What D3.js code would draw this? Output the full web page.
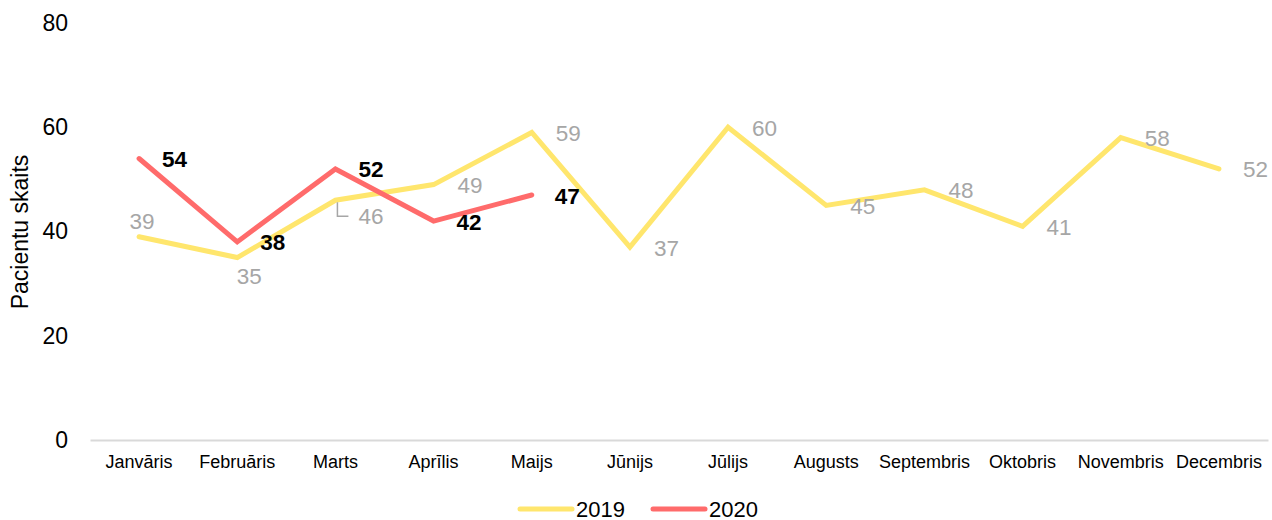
<!DOCTYPE html>
<html>
<head>
<meta charset="utf-8">
<script src="https://cdn.jsdelivr.net/npm/d3@7"></script>
<style>
  html, body { margin: 0; padding: 0; background: #fff; }
  svg { display: block; font-family: "Liberation Sans", Arial, sans-serif; }
</style>
</head>
<body>
<svg id="chart" width="1272" height="520"></svg>
<script>
const months = ["Janvāris","Februāris","Marts","Aprīlis","Maijs","Jūnijs","Jūlijs","Augusts","Septembris","Oktobris","Novembris","Decembris"];
const values2019 = [39,35,46,49,59,37,60,45,48,41,58,52];
const values2020 = [54,38,52,42,47];
const yTicks = [0,20,40,60,80];
const seriesNames = ["2019","2020"];
const yTitle = "Pacientu skaits";

// label placement overrides for 2019 (index -> placement)
const place2019 = {0: "above", 1: "below", 2: "rightLeader"};

const W = 1272, H = 520;
const svg = d3.select("#chart");

const x = d3.scaleBand().domain(months).range([90, 1268]).padding(0);
const cx = d => x(d) + x.bandwidth() / 2;
const y = d3.scaleLinear().domain([0, 80]).range([440, 23]);

const colors = {"2019": "#FFE66D", "2020": "#FF6B6B"};

// y axis ticks (labels only)
const yAxis = svg.append("g")
  .attr("transform", "translate(68,0)")
  .call(d3.axisLeft(y).tickValues(yTicks).tickSize(0).tickPadding(0).tickFormat(d3.format("d")));
yAxis.select(".domain").remove();
yAxis.selectAll("text")
  .attr("font-family", "Liberation Sans, Arial, sans-serif")
  .attr("font-size", 23).attr("fill", "#000");

// x axis
const xAxis = svg.append("g")
  .attr("transform", "translate(0,440)")
  .call(d3.axisBottom(x).tickSize(0).tickPadding(0));
xAxis.select(".domain").attr("stroke", "#D9D9D9").attr("stroke-width", 2);
xAxis.selectAll("text")
  .attr("font-family", "Liberation Sans, Arial, sans-serif")
  .attr("font-size", 18).attr("fill", "#000")
  .attr("y", 28).attr("dy", 0);

// y title
svg.append("text")
  .attr("transform", "translate(28,232) rotate(-90)")
  .attr("text-anchor", "middle")
  .attr("font-size", 23)
  .attr("fill", "#000")
  .text(yTitle);

const line = d3.line()
  .x((d, i) => cx(months[i]))
  .y(d => y(d));

svg.append("path").datum(values2019)
  .attr("fill", "none").attr("stroke", colors["2019"])
  .attr("stroke-width", 5).attr("stroke-linecap", "round")
  .attr("d", line);

svg.append("path").datum(values2020)
  .attr("fill", "none").attr("stroke", colors["2020"])
  .attr("stroke-width", 5).attr("stroke-linecap", "round")
  .attr("d", line);

// 2019 labels
const g19 = svg.append("g").attr("font-size", 22.5).attr("fill", "#A6A6A6");
values2019.forEach((v, i) => {
  const px = cx(months[i]), py = y(v);
  const p = place2019[i] || "right";
  const t = g19.append("text").text(v).attr("dominant-baseline", "central");
  if (p === "above") {
    t.attr("x", px + 3).attr("y", py - 15).attr("text-anchor", "middle");
  } else if (p === "below") {
    t.attr("x", px + 12).attr("y", py + 19).attr("text-anchor", "middle");
  } else if (p === "rightLeader") {
    t.attr("x", px + 23).attr("y", py + 16).attr("text-anchor", "start");
    svg.append("path")
      .attr("d", `M${px + 2},${py + 2}V${py + 16}H${px + 13}`)
      .attr("fill", "none").attr("stroke", "#A6A6A6").attr("stroke-width", 1.5);
  } else {
    t.attr("x", px + 24).attr("y", py + 1).attr("text-anchor", "start");
  }
});

// 2020 labels
const g20 = svg.append("g").attr("font-size", 22.5).attr("font-weight", "bold").attr("fill", "#000");
values2020.forEach((v, i) => {
  const px = cx(months[i]), py = y(v);
  g20.append("text").text(v).attr("dominant-baseline", "central")
    .attr("x", px + 23).attr("y", py + 1).attr("text-anchor", "start");
});

// legend
const legend = svg.append("g");
const legendItems = [{name: seriesNames[0], x0: 520}, {name: seriesNames[1], x0: 653}];
legendItems.forEach(it => {
  legend.append("line")
    .attr("x1", it.x0).attr("x2", it.x0 + 52)
    .attr("y1", 509).attr("y2", 509)
    .attr("stroke", colors[it.name]).attr("stroke-width", 5).attr("stroke-linecap", "round");
  legend.append("text")
    .attr("x", it.x0 + 56).attr("y", 509)
    .attr("dominant-baseline", "central")
    .attr("font-size", 22).attr("fill", "#000")
    .text(it.name);
});
</script>
</body>
</html>
